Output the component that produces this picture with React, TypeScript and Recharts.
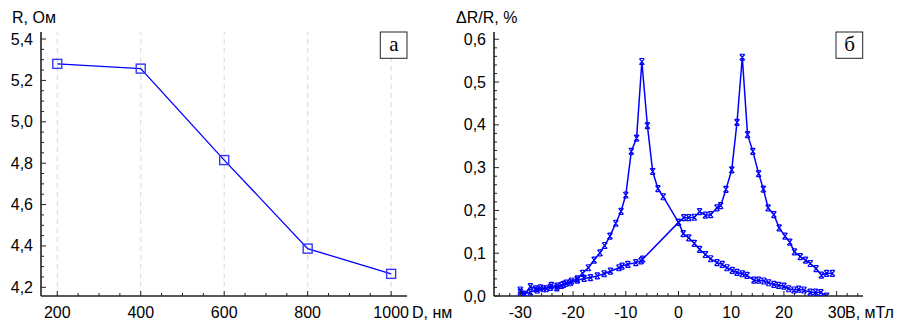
import React from 'react';
import { LineChart, Line, XAxis, YAxis, ReferenceLine } from 'recharts';

// panel "а": resistance vs film thickness
const thickness = [200, 400, 600, 800, 1000];
const resistance = [5.28, 5.257, 4.815, 4.387, 4.265];
const thicknessMajor = [200, 400, 600, 800, 1000];
const resistanceMajor = [4.2, 4.4, 4.6, 4.8, 5.0, 5.2, 5.4];

// panel "б": magnetoresistance vs field, two sweeps
const downField = [
  28.1, 27.0, 26.0, 25.0, 23.8, 22.8, 21.9, 20.9, 20.0, 19.0,
  18.1, 17.1, 16.2, 15.2, 14.3, 13.0, 12.1, 11.1, 10.2, 9.2,
  8.3, 7.3, 6.1, 5.1, 4.0, 3.0, 1.95, 0.9, 0.0, -2.9,
  -3.9, -4.9, -5.9, -6.95, -7.95, -8.95, -10.0, -10.9, -11.9, -13.0,
  -14.0, -14.9, -16.0, -17.1, -18.2, -19.2, -20.3, -21.3, -22.2, -23.1,
  -24.1, -25.1, -26.2, -27.1, -28.1, -29.1, -30.0,
];
const downMr = [
  0.0, 0.008, 0.009, 0.009, 0.014, 0.016, 0.014, 0.017, 0.023, 0.025,
  0.027, 0.031, 0.035, 0.037, 0.037, 0.048, 0.052, 0.055, 0.06, 0.066,
  0.074, 0.078, 0.087, 0.097, 0.109, 0.123, 0.136, 0.146, 0.172, 0.232,
  0.251, 0.291, 0.398, 0.548, 0.369, 0.338, 0.236, 0.198, 0.17, 0.14,
  0.118, 0.101, 0.084, 0.066, 0.053, 0.04, 0.035, 0.03, 0.025, 0.019,
  0.025, 0.017, 0.019, 0.017, 0.022, 0.004, 0.014,
];
const upField = [
  -30.0, -29.4, -28.1, -26.8, -25.6, -24.3, -23.0, -21.8, -20.5, -19.2,
  -17.9, -16.7, -15.4, -14.1, -12.9, -11.3, -10.7, -9.6, -8.1, -7.1,
  -6.8, 0.0, 1.0, 1.95, 3.0, 4.0, 5.1, 6.1, 7.3, 8.0,
  9.0, 10.1, 11.1, 12.1, 13.1, 14.1, 15.2, 16.1, 17.0, 18.1,
  19.1, 20.2, 21.1, 22.0, 23.1, 24.1, 25.0, 26.1, 27.1, 28.1,
  29.2,
];
const upMr = [
  0.009, 0.004, 0.009, 0.014, 0.017, 0.02, 0.023, 0.027, 0.031, 0.037,
  0.041, 0.043, 0.047, 0.052, 0.058, 0.066, 0.07, 0.074, 0.078, 0.082,
  0.086, 0.172, 0.183, 0.183, 0.184, 0.197, 0.189, 0.19, 0.206, 0.211,
  0.249, 0.295, 0.406, 0.558, 0.377, 0.338, 0.286, 0.25, 0.206, 0.19,
  0.159, 0.14, 0.126, 0.103, 0.092, 0.084, 0.076, 0.064, 0.049, 0.053,
  0.053,
];
const fieldMajor = [-30, -20, -10, 0, 10, 20, 30];
const mrMajor = [0, 0.1, 0.2, 0.3, 0.4, 0.5, 0.6];

const steps = (from: number, to: number, step: number) => {
  const out: number[] = [];
  for (let v = from; v <= to + 1e-9; v += step) out.push(Math.round(v * 1000) / 1000);
  return out;
};

const thicknessTicks = steps(200, 1000, 50);
const resistanceTicks = steps(4.2, 5.4, 0.05);
const fieldTicks = steps(-34, 34, 2);
const mrTicks = steps(0, 0.6, 0.02);

const rData = thickness.map((d, i) => ({ d, r: resistance[i] }));
const downData = downField.map((b, i) => ({ b, mr: downMr[i] }));
const upData = upField.map((b, i) => ({ b, mr: upMr[i] }));

const FONT = '"Liberation Sans", Arial, sans-serif';
const BLUE = '#0000ff';
const FRAME = { stroke: '#222', strokeWidth: 1.6 };
const comma = (v: number) => v.toFixed(1).replace('.', ',');

type Side = 'bottom' | 'top' | 'left' | 'right';

const makeTick = (side: Side, majors: number[], fmt?: (v: number) => string) => (props: any) => {
  const { x, y, payload, index } = props;
  const v = payload.value;
  const major = majors.some((m) => Math.abs(m - v) < 1e-6);
  const len = major ? 5 : 3;
  let line;
  if (side === 'bottom') line = <line x1={x} y1={y} x2={x} y2={y - len} />;
  else if (side === 'top') line = <line x1={x} y1={y} x2={x} y2={y + len} />;
  else if (side === 'left') line = <line x1={x} y1={y} x2={x + len} y2={y} />;
  else line = <line x1={x} y1={y} x2={x - len} y2={y} />;
  return (
    <g key={index}>
      <g stroke="#222" strokeWidth={1}>{line}</g>
      {major && fmt && side === 'bottom' && (
        <text x={x} y={y + 22} textAnchor="middle" fontSize={16} fontFamily={FONT} fill="#000">
          {fmt(v)}
        </text>
      )}
      {major && fmt && side === 'left' && (
        <text x={x - 8} y={y + 5.5} textAnchor="end" fontSize={16} fontFamily={FONT} fill="#000">
          {fmt(v)}
        </text>
      )}
    </g>
  );
};

const SquareDot = (props: any) => {
  const { cx, cy, index } = props;
  if (cx == null || cy == null) return null;
  return (
    <rect key={index} x={cx - 4.5} y={cy - 4.5} width={9} height={9} fill="none" stroke="#3636ff" strokeWidth={1.4} />
  );
};

const CrossDot = (props: any) => {
  const { cx, cy, index } = props;
  if (cx == null || cy == null) return null;
  const d = `M${cx - 2.5},${cy - 3}L${cx + 2.5},${cy + 3}M${cx + 2.5},${cy - 3}L${cx - 2.5},${cy + 3}M${cx - 2},${cy - 3}H${cx + 2}M${cx - 2},${cy + 3}H${cx + 2}`;
  return <path key={index} d={d} stroke={BLUE} strokeWidth={1.2} fill="none" />;
};

const App: React.FC = () => {
  return (
    <div style={{ position: 'absolute', left: 0, top: 0, width: 901, height: 323, background: '#fff' }}>
      <div style={{ position: 'absolute', left: 0, top: 0 }}>
        <LineChart width={450} height={323} data={rData} margin={{ top: 32, right: 43, bottom: 0, left: 0 }}>
          <XAxis
            dataKey="d"
            type="number"
            domain={[161, 1038]}
            allowDataOverflow
            ticks={thicknessTicks}
            interval={0}
            tickSize={0}
            tickMargin={0}
            height={27}
            axisLine={FRAME}
            tick={makeTick('bottom', thicknessMajor, (v) => String(v))}
          />
          <XAxis
            xAxisId="top"
            orientation="top"
            type="number"
            domain={[161, 1038]}
            allowDataOverflow
            ticks={thicknessTicks}
            interval={0}
            tickSize={0}
            tickMargin={0}
            height={0}
            axisLine={FRAME}
            tick={makeTick('top', thicknessMajor)}
          />
          <YAxis
            type="number"
            domain={[4.158, 5.434]}
            allowDataOverflow
            ticks={resistanceTicks}
            interval={0}
            tickSize={0}
            tickMargin={0}
            width={41}
            axisLine={FRAME}
            tick={makeTick('left', resistanceMajor, comma)}
          />
          <YAxis
            yAxisId="right"
            orientation="right"
            type="number"
            domain={[4.158, 5.434]}
            allowDataOverflow
            ticks={resistanceTicks}
            interval={0}
            tickSize={0}
            tickMargin={0}
            width={0}
            axisLine={FRAME}
            tick={makeTick('right', resistanceMajor)}
          />
          {thicknessMajor.map((v) => (
            <ReferenceLine key={v} x={v} stroke="#d8d8d8" strokeDasharray="5 4" />
          ))}
          <Line
            dataKey="r"
            stroke={BLUE}
            strokeWidth={1.3}
            dot={SquareDot}
            activeDot={false}
            isAnimationActive={false}
          />
        </LineChart>
      </div>
      <div style={{ position: 'absolute', left: 450, top: 0 }}>
        <LineChart width={451} height={323} margin={{ top: 32, right: 38, bottom: 0, left: 0 }}>
          <XAxis
            dataKey="b"
            type="number"
            domain={[-35, 35]}
            allowDataOverflow
            ticks={fieldTicks}
            interval={0}
            tickSize={0}
            tickMargin={0}
            height={27}
            axisLine={FRAME}
            tick={makeTick('bottom', fieldMajor, (v) => String(v))}
          />
          <XAxis
            xAxisId="top"
            orientation="top"
            type="number"
            domain={[-35, 35]}
            allowDataOverflow
            ticks={fieldTicks}
            interval={0}
            tickSize={0}
            tickMargin={0}
            height={0}
            axisLine={FRAME}
            tick={makeTick('top', fieldMajor)}
          />
          <YAxis
            type="number"
            domain={[0, 0.617]}
            allowDataOverflow
            ticks={mrTicks}
            interval={0}
            tickSize={0}
            tickMargin={0}
            width={44}
            axisLine={FRAME}
            tick={makeTick('left', mrMajor, comma)}
          />
          <YAxis
            yAxisId="right"
            orientation="right"
            type="number"
            domain={[0, 0.617]}
            allowDataOverflow
            ticks={mrTicks}
            interval={0}
            tickSize={0}
            tickMargin={0}
            width={0}
            axisLine={FRAME}
            tick={makeTick('right', mrMajor)}
          />
          <Line
            data={downData}
            dataKey="mr"
            stroke={BLUE}
            strokeWidth={1.5}
            dot={CrossDot}
            activeDot={false}
            isAnimationActive={false}
          />
          <Line
            data={upData}
            dataKey="mr"
            stroke={BLUE}
            strokeWidth={1.5}
            dot={CrossDot}
            activeDot={false}
            isAnimationActive={false}
          />
        </LineChart>
      </div>
      <svg width={901} height={323} style={{ position: 'absolute', left: 0, top: 0, pointerEvents: 'none' }}>
        <g fontFamily={FONT} fontSize={16} fill="#000">
          <text x={12} y={23}>R, Ом</text>
          <text x={412} y={318}>D, нм</text>
          <text x={456} y={23}>ΔR/R, %</text>
          <text x={845} y={318}>В, мТл</text>
        </g>
        <rect x={380.3} y={32} width={26.7} height={26.3} fill="#fff" stroke="#222" strokeWidth={1} />
        <text x={394} y={51} textAnchor="middle" fontFamily='"Liberation Serif", serif' fontSize={21}>а</text>
        <rect x={836} y={32} width={26.7} height={26.3} fill="#fff" stroke="#222" strokeWidth={1} />
        <text x={849.5} y={51} textAnchor="middle" fontFamily='"Liberation Serif", serif' fontSize={21}>б</text>
      </svg>
    </div>
  );
};

export default App;
